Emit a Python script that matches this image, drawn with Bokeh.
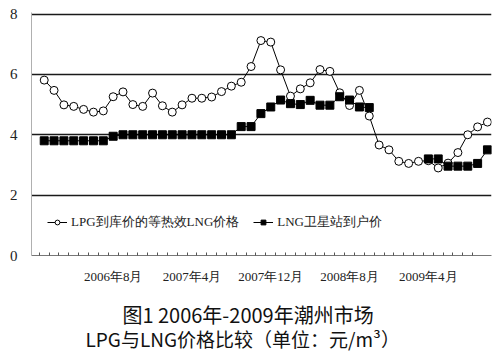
from bokeh.plotting import figure
from bokeh.models import (Range1d, FixedTicker, Legend, LegendItem, Title,
                          ColumnDataSource)
from bokeh.embed import file_html
from bokeh.resources import INLINE
import numpy as np

# ---- data ----
months = [f"{y}年{m}月" for y in (2006, 2007, 2008, 2009) for m in range(1, 13)][:46]

lpg = [5.81, 5.47, 4.99, 4.94, 4.84, 4.75, 4.79, 5.26, 5.42, 5.00,
       4.94, 5.38, 4.96, 4.75, 4.99, 5.21, 5.21, 5.25, 5.43, 5.61,
       5.74, 6.26, 7.12, 7.07, 6.15, 5.28, 5.52, 5.72, 6.16, 6.10,
       5.39, 4.97, 5.47, 4.62, 3.66, 3.50, 3.12, 3.05, 3.12, 3.14,
       2.90, 3.06, 3.41, 4.00, 4.26, 4.42]

nan = float("nan")
lng = [3.80, 3.80, 3.80, 3.80, 3.80, 3.80, 3.80, 3.95, 4.00, 4.00,
       4.00, 4.00, 4.00, 4.00, 4.00, 4.00, 4.00, 4.00, 4.00, 4.00,
       4.27, 4.27, 4.70, 4.92, 5.15, 5.03, 5.00, 5.14, 4.98, 4.98,
       5.26, 5.15, 4.92, 4.90, nan, nan, nan, nan, nan, 3.20,
       3.20, 2.96, 2.96, 2.96, 3.05, 3.50]

tick_labels = ["2006年8月", "2007年4月", "2007年12月", "2008年8月", "2009年4月"]
y_ticks = [0, 2, 4, 6, 8]
grid_values = [2, 4, 6, 8]

series_names = ["LPG到库价的等热效LNG价格", "LNG卫星站到户价"]
title_lines = ["图1  2006年-2009年潮州市场", "LPG与LNG价格比较（单位：元/m³）"]

SERIF = "Liberation Serif"
SANS = "Noto Sans CJK SC"

x = list(range(len(months)))
src = ColumnDataSource(dict(x=x, lpg=np.array(lpg, dtype=float),
                            lng=np.array(lng, dtype=float)))

p = figure(width=500, height=354, output_backend="svg", toolbar_location=None,
           x_range=Range1d(-1.29, 45.41), y_range=Range1d(0, 8.05),
           min_border_left=31, min_border_right=9, min_border_top=12,
           min_border_bottom=99)
p.outline_line_color = None
p.background_fill_color = "white"
p.border_fill_color = "white"

p.xgrid.visible = False
p.ygrid.ticker = FixedTicker(ticks=grid_values)
p.ygrid.grid_line_color = "#1a1a1a"
p.ygrid.grid_line_width = 1.6

# y axis
p.yaxis.ticker = FixedTicker(ticks=y_ticks)
p.yaxis.major_tick_out = 0
p.yaxis.major_tick_in = 0
p.yaxis.minor_tick_out = 0
p.yaxis.minor_tick_in = 0
p.yaxis.axis_line_color = "#b0b0b0"
p.yaxis.major_label_standoff = 14
p.yaxis.major_label_text_font = SERIF
p.yaxis.major_label_text_font_size = "15px"
p.yaxis.major_label_text_color = "#222222"

# x axis
label_pos = [months.index(t) for t in tick_labels]
p.xaxis.ticker = FixedTicker(ticks=label_pos,
                             minor_ticks=[i - 0.5 for i in range(len(months) - 1)])
p.xaxis.major_label_overrides = {pos: t for pos, t in zip(label_pos, tick_labels)}
p.xaxis.major_tick_in = 0
p.xaxis.major_tick_out = 0
p.xaxis.minor_tick_in = 3
p.xaxis.minor_tick_out = 0
p.xaxis.minor_tick_line_color = "#555555"
p.xaxis.axis_line_color = "#777777"
p.xaxis.major_label_standoff = 13
p.xaxis.major_label_text_font = SERIF
p.xaxis.major_label_text_font_size = "13px"
p.xaxis.major_label_text_color = "#222222"

# first caption line as the x-axis label (padded to shift its centre left)
p.xaxis.axis_label = title_lines[0] + "\u00a0" * 5
p.xaxis.axis_label_text_font = SANS
p.xaxis.axis_label_text_font_size = "20px"
p.xaxis.axis_label_text_font_style = "normal"
p.xaxis.axis_label_text_color = "#111111"
p.xaxis.axis_label_standoff = 13

# series
r1l = p.line("x", "lpg", source=src, line_color="black", line_width=1)
r1s = p.scatter("x", "lpg", source=src, marker="circle", size=8,
                fill_color="white", line_color="black", line_width=1)
r2l = p.line("x", "lng", source=src, line_color="black", line_width=1)
r2s = p.scatter("x", "lng", source=src, marker="square", size=8,
                fill_color="black", line_color="black", line_width=1)

legend = Legend(items=[LegendItem(label=series_names[0], renderers=[r1l, r1s]),
                       LegendItem(label=series_names[1], renderers=[r2l, r2s])],
                orientation="horizontal", location=(16, 24),
                glyph_width=20, glyph_height=12, label_standoff=4, spacing=14,
                padding=3, margin=0, border_line_color=None,
                background_fill_alpha=0,
                label_text_font=SERIF, label_text_font_size="13px",
                label_text_color="#222222")
p.add_layout(legend)

try:
    t2 = Title(text=title_lines[1], align="left", text_font=SANS,
               text_font_size="19px", text_font_style="normal", standoff=-18,
               offset=54, text_color="#111111")
except Exception:
    t2 = Title(text=title_lines[1], align="left", text_font=SANS,
               text_font_size="19px", text_font_style="normal", standoff=0,
               offset=54, text_color="#111111")
p.add_layout(t2, "below")

open("out.html", "w").write(file_html(p, INLINE))
